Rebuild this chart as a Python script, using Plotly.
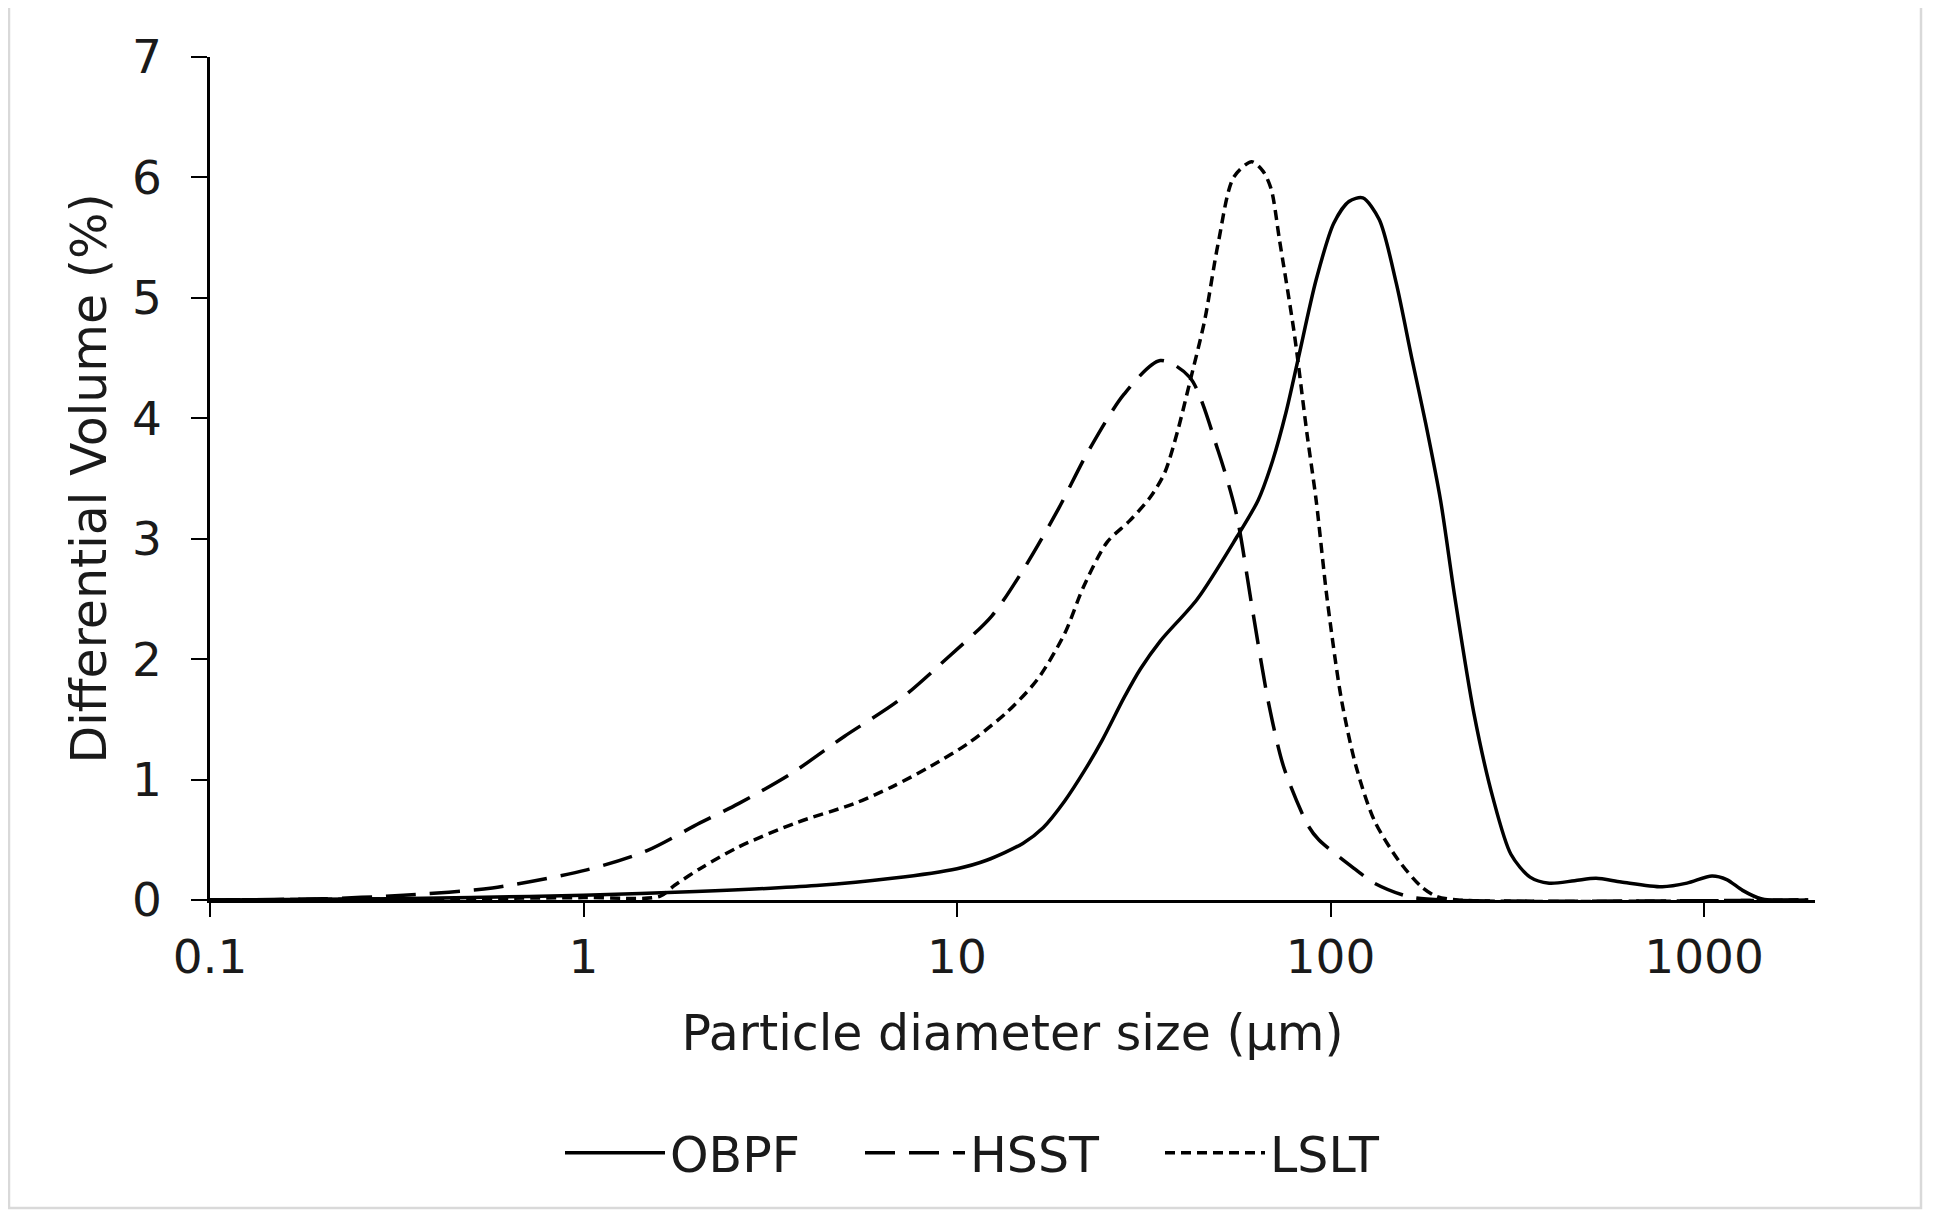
import plotly.graph_objects as go

# ---------------- data ----------------
obpf_x = [0.1, 0.3, 0.5, 1, 2, 4.2, 6.7, 10, 12, 15, 17, 19.4, 22, 24.5, 28, 31, 35, 44, 56, 64,
          70, 76, 82, 91.5, 102, 112, 122, 135, 150, 165, 180, 197, 215, 242, 272, 304, 342,
          385, 450, 514, 600, 773, 900, 1050, 1150, 1268, 1420, 1500, 1900]
obpf_y = [0.0, 0.01, 0.02, 0.04, 0.07, 0.12, 0.18, 0.26, 0.33, 0.47, 0.6, 0.82, 1.08, 1.33,
          1.68, 1.92, 2.15, 2.5, 3.01, 3.32, 3.65, 4.05, 4.5, 5.15, 5.62, 5.8, 5.83, 5.65,
          5.12, 4.5, 3.95, 3.32, 2.52, 1.55, 0.85, 0.38, 0.19, 0.14, 0.16, 0.18, 0.15, 0.11,
          0.14, 0.2, 0.17, 0.08, 0.01, 0.0, 0.0]

hsst_x = [0.1, 0.2, 0.33, 0.57, 1.02, 1.48, 2.05, 2.6, 3.6, 5, 7, 9.5, 12.4, 15.3, 18.7, 22.4,
          28, 35, 42, 50, 56, 61.5, 68, 75, 87, 93, 117, 131, 161, 200, 1900]
hsst_y = [0.0, 0.01, 0.04, 0.1, 0.25, 0.41, 0.64, 0.8, 1.05, 1.36, 1.66, 2.02, 2.36, 2.78,
          3.25, 3.72, 4.2, 4.48, 4.34, 3.73, 3.2, 2.45, 1.66, 1.1, 0.62, 0.5, 0.25, 0.14,
          0.03, 0.0, 0.0]

lslt_x = [0.1, 1, 1.6, 1.75, 2.05, 2.6, 3.7, 5.3, 6.7, 8.5, 10.7, 13.5, 16.4, 19.4, 21.8, 25.2,
          29, 33, 36, 39, 42, 46, 50, 55, 61.5, 66, 69.4, 73, 80, 86.5, 91.5, 98, 107, 117,
          131, 152, 175, 192, 220, 1900]
lslt_y = [0.0, 0.02, 0.03, 0.12, 0.26, 0.44, 0.64, 0.8, 0.94, 1.11, 1.3, 1.55, 1.83, 2.21,
          2.6, 2.97, 3.15, 3.35, 3.55, 3.9, 4.3, 4.81, 5.45, 6.0, 6.13, 6.05, 5.9, 5.48, 4.7,
          3.87, 3.32, 2.49, 1.66, 1.11, 0.66, 0.33, 0.11, 0.03, 0.0, 0.0]

series_names = ["OBPF", "HSST", "LSLT"]
x_tick_vals = [0.1, 1, 10, 100, 1000]
x_tick_text = ["0.1", "1", "10", "100", "1000"]
y_tick_vals = [0, 1, 2, 3, 4, 5, 6, 7]

# ---------------- layout geometry (window pixels) ----------------
OFF = 8                      # default body margin of the html page
W, H = 1933 - OFF, 1214 - OFF
L, R, T, B = 210 - OFF, 1815 - OFF, 57 - OFF, 900 - OFF
FONT = "DejaVu Sans, Verdana, sans-serif"
TXT = "#1a1a1a"


def px_x(p):
    return (p - OFF - L) / (R - L)


def px_y(p):
    return (B - (p - OFF)) / (B - T)


fig = go.Figure()
fig.add_trace(go.Scatter(x=obpf_x, y=obpf_y, name=series_names[0], mode="lines",
                         line=dict(color="black", width=3.5, shape="spline", smoothing=0.8)))
fig.add_trace(go.Scatter(x=hsst_x, y=hsst_y, name=series_names[1], mode="lines",
                         line=dict(color="black", width=3.5, dash="30px,14px",
                                   shape="spline", smoothing=0.8)))
fig.add_trace(go.Scatter(x=lslt_x, y=lslt_y, name=series_names[2], mode="lines",
                         line=dict(color="black", width=3.5, dash="10px,6px",
                                   shape="spline", smoothing=0.8)))

fig.update_layout(
    width=W, height=H,
    margin=dict(l=L, r=W - R, t=T, b=H - B, pad=0),
    paper_bgcolor="white", plot_bgcolor="white",
    font=dict(family=FONT, color=TXT, size=47),
    showlegend=True,
    legend=dict(orientation="h", x=px_x(560), xanchor="left", y=px_y(1153), yanchor="middle",
                font=dict(size=49, family=FONT, color=TXT), itemwidth=100,
                entrywidth=185, entrywidthmode="pixels",
                bgcolor="rgba(0,0,0,0)"),
    shapes=[dict(type="rect", xref="paper", yref="paper",
                 x0=px_x(9), x1=px_x(1921), y0=px_y(1208), y1=px_y(6),
                 line=dict(color="#d9d9d9", width=2.5), fillcolor="rgba(0,0,0,0)",
                 layer="below")],
)

fig.update_xaxes(type="log", range=[-1, 3.297], tickvals=x_tick_vals, ticktext=x_tick_text,
                 showgrid=False, zeroline=False, showline=True, linecolor="black", linewidth=2.5,
                 ticks="outside", ticklen=14, tickwidth=2, tickcolor="black",
                 tickfont=dict(size=47, family=FONT, color=TXT),
                 title=dict(text="Particle diameter size (µm)", font=dict(size=49, family=FONT, color=TXT),
                            standoff=33))
fig.update_yaxes(range=[0, 7], tickvals=y_tick_vals, showgrid=False, zeroline=False,
                 showline=True, linecolor="black", linewidth=2.5,
                 ticks="outside", ticklen=16, tickwidth=2, tickcolor="black",
                 ticklabelstandoff=20,
                 tickfont=dict(size=47, family=FONT, color=TXT),
                 title=dict(text="Differential Volume (%)", font=dict(size=49, family=FONT, color=TXT),
                            standoff=10))

fig.write_html("out.html")
